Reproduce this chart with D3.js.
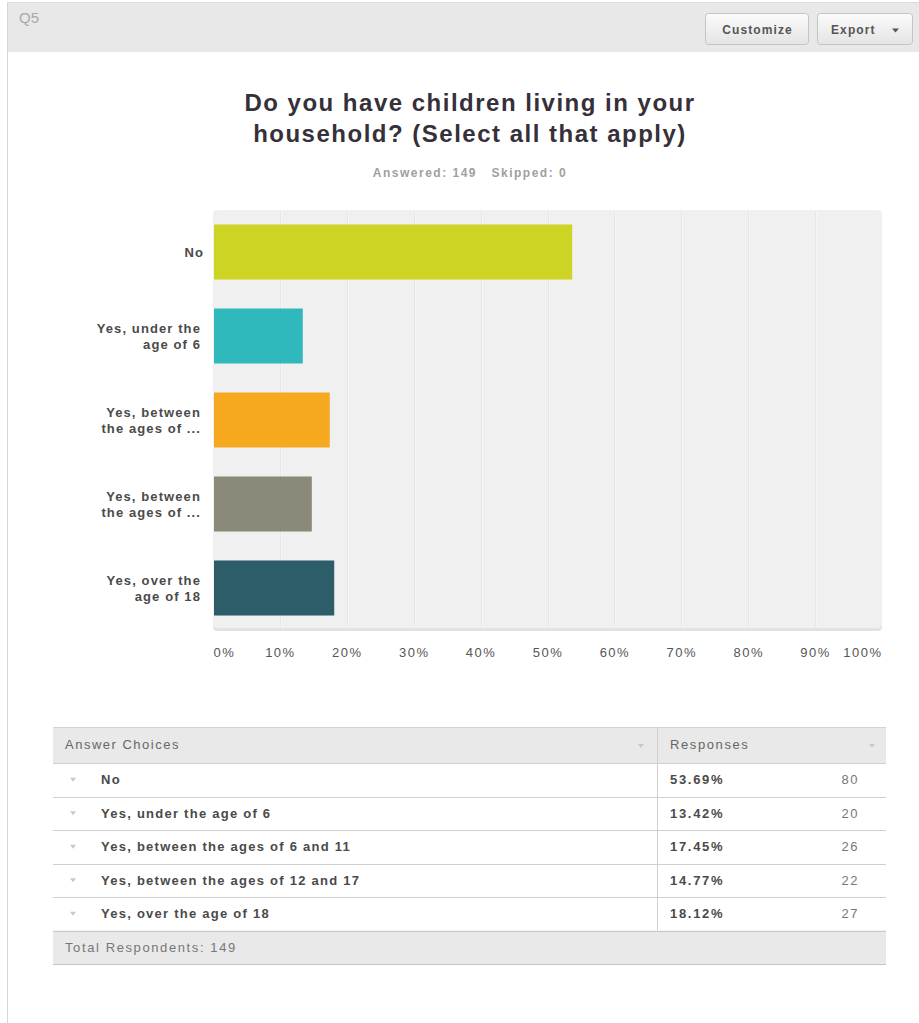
<!DOCTYPE html>
<html>
<head>
<meta charset="utf-8">
<script src="https://cdn.jsdelivr.net/npm/d3@7"></script>
<style>
  html, body { margin: 0; padding: 0; background: #fff; }
  svg { display: block; font-family: "Liberation Sans", Arial, sans-serif; }
</style>
</head>
<body>
<svg id="chart" width="919" height="1023"></svg>
<script>
// Survey question Q5 results
const questionTitle = ["Do you have children living in your", "household? (Select all that apply)"];
const answered = 149;
const skipped = 0;
const choices = [
  "No",
  "Yes, under the age of 6",
  "Yes, between the ages of 6 and 11",
  "Yes, between the ages of 12 and 17",
  "Yes, over the age of 18"
];
const axisLabels = [
  ["No"],
  ["Yes, under the", "age of 6"],
  ["Yes, between", "the ages of ..."],
  ["Yes, between", "the ages of ..."],
  ["Yes, over the", "age of 18"]
];
const percents = [53.69, 13.42, 17.45, 14.77, 18.12];
const counts = [80, 20, 26, 22, 27];
const barColors = ["#cdd424", "#30b9bc", "#f6a81f", "#8a897a", "#2e5d6a"];
const xTicks = [0, 10, 20, 30, 40, 50, 60, 70, 80, 90, 100];

const svg = d3.select("#chart");

// ---- page frame and header strip ----
svg.append("rect").attr("x", 7).attr("y", 2).attr("width", 912).attr("height", 50)
  .attr("fill", "#e8e8e8");
svg.append("line").attr("x1", 7.5).attr("x2", 7.5).attr("y1", 2).attr("y2", 1023)
  .attr("stroke", "#d6d6d6");
svg.append("line").attr("x1", 7).attr("x2", 919).attr("y1", 2.5).attr("y2", 2.5)
  .attr("stroke", "#dcdcdc");
svg.append("text").attr("x", 19).attr("y", 23).text("Q5")
  .attr("font-size", 15).attr("fill", "#a8a8a8");

const defs = svg.append("defs");
const grad = defs.append("linearGradient").attr("id", "btnGrad")
  .attr("x1", 0).attr("y1", 0).attr("x2", 0).attr("y2", 1);
grad.append("stop").attr("offset", "0%").attr("stop-color", "#fbfbfb");
grad.append("stop").attr("offset", "100%").attr("stop-color", "#e4e4e4");

const buttons = [
  { label: "Customize", x: 705, w: 103, caret: false },
  { label: "Export", x: 817, w: 95, caret: true }
];
buttons.forEach(b => {
  const g = svg.append("g");
  g.append("rect").attr("x", b.x + 0.5).attr("y", 13.5).attr("width", b.w).attr("height", 31)
    .attr("rx", 3).attr("fill", "url(#btnGrad)").attr("stroke", "#c4c4c4");
  const t = g.append("text").attr("y", 33.5).attr("font-size", 12).attr("font-weight", "bold")
    .attr("fill", "#555").attr("letter-spacing", 1.1);
  if (b.caret) {
    t.attr("x", b.x + 14).attr("text-anchor", "start").text(b.label);
    g.append("path").attr("d", `M${b.x + 75},28.5 l7,0 l-3.5,4 z`).attr("fill", "#555");
  } else {
    t.attr("x", b.x + b.w / 2 + 1).attr("text-anchor", "middle").text(b.label);
  }
});

// ---- title block ----
questionTitle.forEach((line, i) => {
  svg.append("text").attr("x", 470).attr("y", 111 + i * 31).attr("text-anchor", "middle")
    .attr("font-size", 24).attr("font-weight", "bold").attr("fill", "#35303a")
    .attr("letter-spacing", 1.5).text(line);
});
svg.append("text").attr("x", 470).attr("y", 177).attr("text-anchor", "middle")
  .attr("font-size", 12).attr("font-weight", "bold").attr("fill", "#a0a0a0")
  .attr("letter-spacing", 1.5)
  .text(`Answered: ${answered}\u00a0\u00a0\u00a0Skipped: ${skipped}`);

// ---- bar chart ----
const x = d3.scaleLinear().domain([0, 100]).range([213, 882]);
const y = d3.scaleBand().domain(choices).range([210, 630]).paddingInner(0.345).paddingOuter(0.1725);

// plot background with a soft bottom edge
svg.append("rect").attr("x", 213).attr("y", 212).attr("width", 669).attr("height", 419)
  .attr("rx", 4).attr("fill", "#e2e2e2");
svg.append("rect").attr("x", 213).attr("y", 210).attr("width", 669).attr("height", 418)
  .attr("rx", 4).attr("fill", "#f0f0f0");

// vertical grid lines
svg.append("g").selectAll("line").data(xTicks.slice(1, -1)).join("line")
  .attr("x1", d => Math.round(x(d)) + 0.5).attr("x2", d => Math.round(x(d)) + 0.5)
  .attr("y1", 212).attr("y2", 627)
  .attr("stroke", "#e6e6e6").attr("stroke-width", 1);
svg.append("g").selectAll("line").data(xTicks.slice(1, -1)).join("line")
  .attr("x1", d => Math.round(x(d)) + 1.5).attr("x2", d => Math.round(x(d)) + 1.5)
  .attr("y1", 212).attr("y2", 627)
  .attr("stroke", "#f6f6f6").attr("stroke-width", 1);

// bars
svg.append("g").selectAll("rect").data(choices).join("rect")
  .attr("x", x(0) + 1)
  .attr("y", d => y(d))
  .attr("width", (d, i) => x(percents[i]) - x(0) - 1)
  .attr("height", y.bandwidth())
  .attr("fill", (d, i) => barColors[i]);

// category labels
const catG = svg.append("g");
choices.forEach((c, i) => {
  const lines = axisLabels[i];
  const cy = y(c) + y.bandwidth() / 2;
  const t = catG.append("text").attr("text-anchor", "end").attr("font-size", 13)
    .attr("font-weight", "bold").attr("fill", "#4a4a4a").attr("letter-spacing", 1.1);
  lines.forEach((ln, j) => {
    t.append("tspan").attr("x", lines.length === 1 ? 204 : 201)
      .attr("y", cy + 4.5 + (j - (lines.length - 1) / 2) * 16)
      .text(ln);
  });
});

// x axis
const xAxis = d3.axisBottom(x).tickValues(xTicks).tickSize(0).tickPadding(0)
  .tickFormat(d => d + "%");
const axG = svg.append("g").attr("transform", "translate(0,648)").call(xAxis);
axG.select(".domain").remove();
axG.selectAll("text")
  .attr("font-family", "'Liberation Sans', Arial, sans-serif")
  .attr("font-size", 13).attr("fill", "#555").attr("letter-spacing", 1.5)
  .attr("dy", "0.71em")
  .attr("text-anchor", d => d === 0 ? "start" : (d === 100 ? "end" : "middle"));

// ---- results table ----
const tX0 = 53, tX1 = 886, colX = 657;
const headerTop = 727, rowH = 33.5;
const headerH = 36;
const tableG = svg.append("g");

// header
tableG.append("rect").attr("x", tX0).attr("y", headerTop).attr("width", tX1 - tX0).attr("height", headerH)
  .attr("fill", "#e9e9e9");
tableG.append("line").attr("x1", tX0).attr("x2", tX1).attr("y1", headerTop + 0.5).attr("y2", headerTop + 0.5)
  .attr("stroke", "#d4d4d4");
tableG.append("text").attr("x", 65).attr("y", headerTop + 22).text("Answer Choices")
  .attr("font-size", 13).attr("fill", "#666").attr("letter-spacing", 1.5);
tableG.append("text").attr("x", 670).attr("y", headerTop + 22).text("Responses")
  .attr("font-size", 13).attr("fill", "#666").attr("letter-spacing", 1.6);
[641, 872].forEach(ax => {
  tableG.append("path").attr("d", `M${ax - 3},${headerTop + 17} l6,0 l-3,4 z`).attr("fill", "#c8c8c8");
});

const rowsTop = headerTop + headerH;
choices.forEach((c, i) => {
  const top = rowsTop + i * rowH;
  const mid = top + rowH / 2;
  tableG.append("line").attr("x1", tX0).attr("x2", tX1)
    .attr("y1", Math.round(top) + 0.5).attr("y2", Math.round(top) + 0.5)
    .attr("stroke", "#cfcfcf");
  tableG.append("path").attr("d", `M${70},${mid - 2} l6,0 l-3,4 z`).attr("fill", "#c8c8c8");
  tableG.append("text").attr("x", 101).attr("y", mid + 4.5).text(c)
    .attr("font-size", 13).attr("font-weight", "bold").attr("fill", "#4a4a4a")
    .attr("letter-spacing", 1.25);
  tableG.append("text").attr("x", 670).attr("y", mid + 4.5).text(percents[i].toFixed(2) + "%")
    .attr("font-size", 13).attr("font-weight", "bold").attr("fill", "#4a4a4a")
    .attr("letter-spacing", 1.7);
  tableG.append("text").attr("x", 859).attr("y", mid + 4.5).attr("text-anchor", "end").text(counts[i])
    .attr("font-size", 13).attr("fill", "#777").attr("letter-spacing", 1.5);
});

const totalTop = rowsTop + choices.length * rowH;
tableG.append("line").attr("x1", colX + 0.5).attr("x2", colX + 0.5)
  .attr("y1", headerTop).attr("y2", totalTop).attr("stroke", "#cfcfcf");
tableG.append("rect").attr("x", tX0).attr("y", totalTop).attr("width", tX1 - tX0).attr("height", rowH)
  .attr("fill", "#e9e9e9");
tableG.append("line").attr("x1", tX0).attr("x2", tX1)
  .attr("y1", Math.round(totalTop) + 0.5).attr("y2", Math.round(totalTop) + 0.5)
  .attr("stroke", "#c8c8c8");
tableG.append("line").attr("x1", tX0).attr("x2", tX1)
  .attr("y1", Math.round(totalTop + rowH) + 0.5).attr("y2", Math.round(totalTop + rowH) + 0.5)
  .attr("stroke", "#c4c4c4");
tableG.append("text").attr("x", 65).attr("y", totalTop + rowH / 2 + 4.5)
  .text(`Total Respondents: ${answered}`)
  .attr("font-size", 13).attr("fill", "#777").attr("letter-spacing", 1.6);
</script>
</body>
</html>
